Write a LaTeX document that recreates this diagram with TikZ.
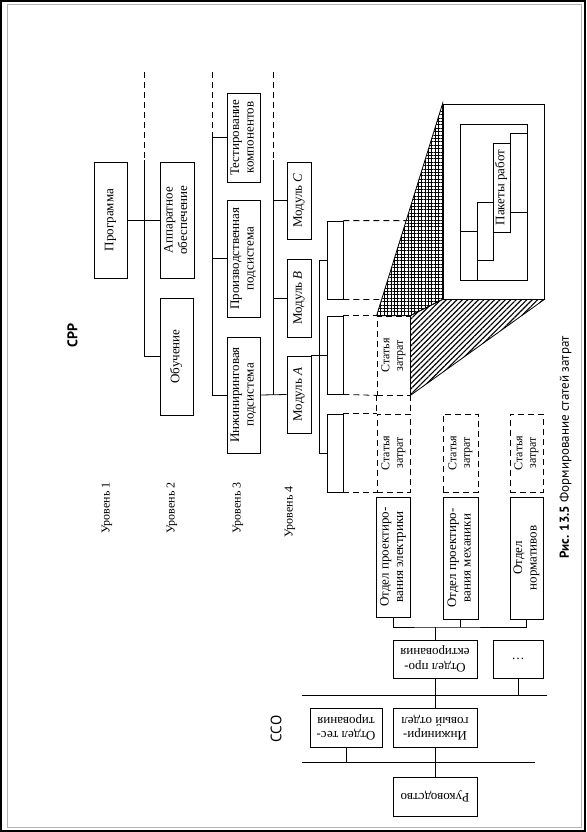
\documentclass[tikz,border=0pt]{standalone}
\usepackage{fontspec}
\setmainfont{Liberation Serif}
\newfontfamily\capfont{PT Sans}
\usepackage{graphicx}
\usetikzlibrary{patterns.meta}
% text turned to read upwards / upside down
\newcommand\vt[1]{\rotatebox{90}{\begin{tabular}{@{}c@{}}#1\end{tabular}}}
\newcommand\ft[1]{\rotatebox{180}{\begin{tabular}{@{}c@{}}#1\end{tabular}}}
\tikzset{
  every picture/.style={line width=0.8pt},
  box/.style={draw, fill=white, inner sep=0pt, font=\fontsize{13}{14.5}\selectfont},
  cost/.style={box, fill=none, font=\fontsize{12}{13.5}\selectfont, dash pattern=on 6pt off 4pt},
  hid/.style={dash pattern=on 6pt off 4pt},
  lvl/.style={rotate=90, inner sep=0pt, font=\fontsize{12}{13}\selectfont},
  tag/.style={rotate=90, inner sep=0pt, font=\capfont\fontsize{14}{16}\selectfont},
  grid/.style={pattern={Hatch[distance=3.4pt, line width=0.8pt]}},
  ray/.style={pattern={Lines[angle=45, distance=3.8pt, line width=1.1pt]}},
}

\begin{document}
\begin{tikzpicture}[x=1pt, y=-1pt]
  \useasboundingbox (0,0) rectangle (586,832);
  \draw[line width=2.4pt] (1.2,1.2) rectangle (584.8,830.8);
  \draw[gray!60, line width=1pt] (7.5,4.5) rectangle (581,827);

  % WBS, levels 1-4
  \node[tag, font=\capfont\bfseries\fontsize{14}{16}\selectfont] (wbs) at (72.5,335.5) {СРР};
  \node[lvl] (l1) at (107,508) {Уровень 1};
  \node[lvl] (l2) at (172,508) {Уровень 2};
  \node[lvl] (l3) at (238,508) {Уровень 3};
  \node[lvl] (l4) at (290,512) {Уровень 4};

  \node[box, minimum width=33pt, minimum height=116pt] (prog) at (110.5,220) {\vt{Программа}};
  \node[box, minimum width=34pt, minimum height=116pt] (hw) at (177,220) {\vt{Аппаратное\\обеспечение}};
  \node[box, minimum width=33pt, minimum height=117pt] (teach) at (176.5,356.5) {\vt{Обучение}};
  \node[box, minimum width=33pt, minimum height=89pt] (test) at (243.5,137.5) {\vt{Тестирование\\компонентов}};
  \node[box, minimum width=33pt, minimum height=117pt] (prod) at (243.5,258.5) {\vt{Производственная\\подсистема}};
  \node[box, minimum width=33pt, minimum height=116pt] (eng) at (243.5,395) {\vt{Инжиниринговая\\подсистема}};
  \node[box, minimum width=24pt, minimum height=77pt] (modC) at (299,200.5) {\vt{Модуль \textit{C}}};
  \node[box, minimum width=24pt, minimum height=78pt] (modB) at (299,298) {\vt{Модуль \textit{B}}};
  \node[box, minimum width=24pt, minimum height=77pt] (modA) at (299,394.5) {\vt{Модуль \textit{A}}};
  \node[box, minimum width=16pt, minimum height=78pt] (wp1) at (335,260) {};
  \node[box, minimum width=16pt, minimum height=78pt] (wp2) at (335,355) {};
  \node[box, minimum width=16pt, minimum height=78pt] (wp3) at (335,453) {};

  \coordinate (t2) at (144,72);  \coordinate (s2) at (144,160);
  \coordinate (t3) at (212,72);  \coordinate (s3) at (212,137.5);
  \coordinate (t4) at (273,72);  \coordinate (s4) at (273,160);
  \coordinate (s5) at (319,260);
  \draw[hid] (t2) -- (s2);
  \draw[hid] (t3) -- (s3);
  \draw[hid] (t4) -- (s4);
  \draw (prog.east) -- (hw.west);
  \draw (s2) |- (teach.west);
  \draw (s3) -- (test.west);
  \draw (s3 |- prod.west) -- (prod.west);
  \draw (s3) |- (eng.west);
  \draw (s4) -- (s4 |- eng.east);
  \draw (eng.east) -- (modA.west);
  \draw (s4 |- modC.west) -- (modC.west);
  \draw (s4 |- modB.west) -- (modB.west);
  \draw (s5) -- (wp1.west);
  \draw (s5) |- (wp3.west);
  \draw (wp2.west -| modA.east) -- (wp2.west);

  % cost accounts
  \node[cost, minimum width=33pt, minimum height=79pt] (ca0) at (393.5,355.5) {\vt{Статья\\затрат}};
  \node[cost, minimum width=33pt, minimum height=78pt] (ca1) at (393.5,453) {\vt{Статья\\затрат}};
  \node[cost, minimum width=35pt, minimum height=78pt] (ca2) at (460.5,453) {\vt{Статья\\затрат}};
  \node[cost, minimum width=33pt, minimum height=78pt] (ca3) at (526.5,453) {\vt{Статья\\затрат}};
  \draw[hid] (wp2.north east) -- (ca0.north west);
  \draw[hid] (wp2.south east) -- (ca0.south west);
  \draw[hid] (wp3.north east) -- (ca1.north west);
  \draw[hid] (wp3.south east) -- (ca1.south west);
  \draw[hid] (ca0.south west) -- (ca1.north west);
  \draw[hid] (ca0.south east) -- (ca1.north east);

  % enlarged cost account
  \node[box, minimum width=101pt, minimum height=195pt] (big) at (493.5,201.5) {};
  \draw[grid] (ca0.north west) -- (big.north west) -- (big.south west) -- (ca0.north east) -- cycle;
  \draw[ray] (ca0.north east) -- (big.south west) -- (big.south east) -- (ca0.south east) -- cycle;
  \draw[hid] (wp1.north east) -- (intersection of wp1.north east--wp1.north west and ca0.north west--big.north west);
  \draw[hid] (wp1.south east) -- (intersection of wp1.south east--wp1.south west and ca0.north west--big.north west);
  \node[box, minimum width=67pt, minimum height=156pt] (inner) at (493.5,202) {};
  \draw (460,231) -- (477,231);
  \draw (477,280) -- (477,202) -- (493,202);
  \draw (477,260) -- (493,260) -- (493,232);
  \draw (510,143) -- (510,133) -- (527,133);
  \draw (510,212) -- (527,212);
  \node[box, minimum width=17pt, minimum height=89pt] (pkg) at (501.5,187.5) {\vt{Пакеты работ}};

  % OBS
  \node[box, minimum width=34pt, minimum height=120pt] (elec) at (393,557) {\vt{Отдел проектиро-\\вания электрики}};
  \node[box, minimum width=35pt, minimum height=122pt] (mech) at (460.5,558) {\vt{Отдел проектиро-\\вания механики}};
  \node[box, minimum width=33pt, minimum height=122pt] (norm) at (526.5,558) {\vt{Отдел\\нормативов}};
  \node[box, minimum width=84pt, minimum height=38pt] (dsg) at (435,659) {\ft{Отдел про-\\ектирования}};
  \node[box, minimum width=50pt, minimum height=38pt] (etc) at (518,659) {\dots};
  \node[box, minimum width=72pt, minimum height=39pt] (tst) at (346,727.5) {\ft{Отдел тес-\\тирования}};
  \node[box, minimum width=84pt, minimum height=39pt] (engd) at (435,727.5) {\ft{Инжинири-\\говый отдел}};
  \node[box, minimum width=84pt, minimum height=39pt] (mgmt) at (435,796.5) {\ft{Руководство}};
  \node[tag, font=\capfont\fontsize{15}{17}\selectfont] (obs) at (276,729) {ССО};

  \coordinate (ob) at (435,627);
  \coordinate (b1l) at (302,695); \coordinate (b1r) at (547,695);
  \coordinate (b2l) at (302,762); \coordinate (b2r) at (535,762);
  \draw (elec.south) |- (ob) -| (norm.south);
  \draw (mech.south) -- (mech.south |- ob);
  \draw (ob) -- (dsg.north);
  \draw (b1l) -- (b1r);
  \draw (etc.south) -- (etc.south |- b1l);
  \draw (dsg.south) -- (engd.north);
  \draw (b2l) -- (b2r);
  \draw (tst.south) -- (tst.south |- b2l);
  \draw (engd.south) -- (mgmt.north);

  \node[rotate=90, inner sep=0pt, font=\capfont\fontsize{13}{15}\selectfont] (cap) at (565.5,447.5) {{\bfseries Рис. 13.5} Формирование статей затрат};
\end{tikzpicture}
\end{document}
